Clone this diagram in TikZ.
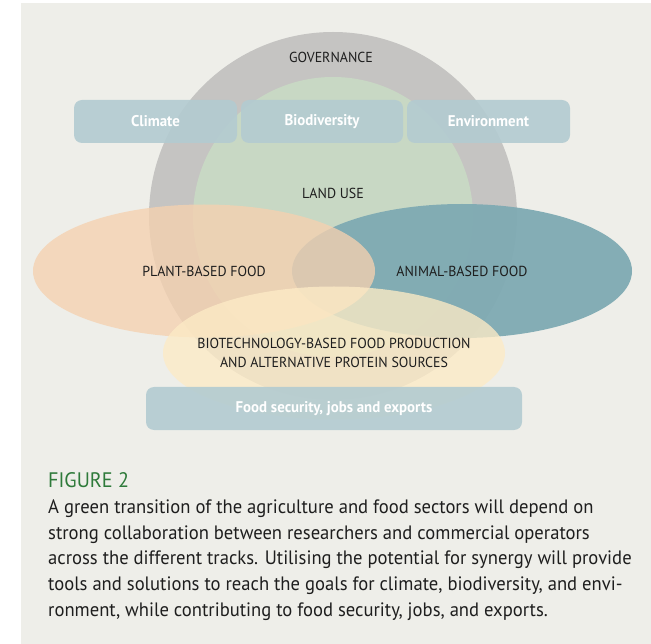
\documentclass[tikz,border=0pt]{standalone}
\usepackage{fontspec}
\setmainfont{PT Sans}
\newfontfamily\rotulo[FakeStretch=0.96]{PT Sans}
\newfontfamily\pie[FakeStretch=0.96]{PT Sans}
\usetikzlibrary{shapes.geometric,positioning}

\definecolor{fondo}{HTML}{EEEEE9}
\definecolor{gris}{HTML}{C5C4C2}
\definecolor{verde}{HTML}{C8D8C4}
\definecolor{caja}{HTML}{B3CBD1}
\definecolor{naranja}{HTML}{F5D1B0}
\definecolor{azul}{HTML}{7FAAB3}
\definecolor{amarillo}{HTML}{FDEBC6}
\definecolor{titulo}{HTML}{2E7A3A}
\definecolor{texto}{HTML}{1E1E1E}

\tikzset{
  recuadro/.style={fill=caja, fill opacity=0.9, text opacity=1, rounded corners=8pt,
    minimum height=43pt, inner sep=0pt, text=white, font=\rotulo\bfseries\fontsize{15.5}{17}\selectfont},
  elipse/.style={ellipse, minimum width=342pt, minimum height=133pt, inner sep=0pt},
  etiqueta/.style={text=texto, inner sep=0pt, align=center, font=\rotulo\fontsize{14.5}{19}\selectfont},
  linea/.style={anchor=base west, inner sep=0pt, text=texto, font=\pie\fontsize{19.4}{26}\selectfont}
}

\begin{document}
\begin{tikzpicture}[x=1pt, y=-1pt]
\useasboundingbox (0,0) rectangle (651,644);
\fill[fondo] (21,3) rectangle (651,644);

% Circulos de gobernanza y uso del suelo
\fill[gris] (333,216) circle (184pt);
\fill[verde] (333,217) circle (140pt);
\node[etiqueta] (gov) at (331,57) {GOVERNANCE};

% Tres metas arriba
\node[recuadro, minimum width=163pt] (clima) at (155.5,121.5) {Climate};
\node[recuadro, minimum width=162pt] (biodiv) at (322,121.5) {Biodiversity};
\node[recuadro, minimum width=163pt] (ambiente) at (488.5,121.5) {Environment};

\node[etiqueta] (suelo) at (333,193) {LAND USE};

% Tres elipses de alimentos
\node[elipse, fill=azul, fill opacity=0.95, minimum width=340pt, minimum height=134pt] (animal) at (462,271) {};
\node[elipse, fill=naranja, fill opacity=0.78] (planta) at (204,271) {};
\node[elipse, fill=amarillo, fill opacity=0.78] (biotec) at (334,353) {};
\node[etiqueta] at (animal.center) {ANIMAL-BASED FOOD};
\node[etiqueta] at (planta.center) {PLANT-BASED FOOD};
\node[etiqueta] at (biotec.center) {BIOTECHNOLOGY-BASED FOOD PRODUCTION\\AND ALTERNATIVE PROTEIN SOURCES};

% Resultado abajo
\node[recuadro, minimum width=376pt] (seguridad) at (334,408.5) {Food security, jobs and exports};

% Pie de figura
\node[linea, text=titulo, font=\pie\fontsize{21}{26}\selectfont] (fig) at (48,487) {FIGURE 2};
\node[linea] (cap1) at (48,513) {A green transition of the agriculture and food sectors will depend on};
\node[linea] (cap2) at (48,539) {strong collaboration between researchers and commercial operators};
\node[linea] (cap3) at (48,564.5) {across the different tracks. Utilising the potential for synergy will provide};
\node[linea] (cap4) at (48,590) {tools and solutions to reach the goals for climate, biodiversity, and envi-};
\node[linea] (cap5) at (48,616) {ronment, while contributing to food security, jobs, and exports.};

\end{tikzpicture}
\end{document}
